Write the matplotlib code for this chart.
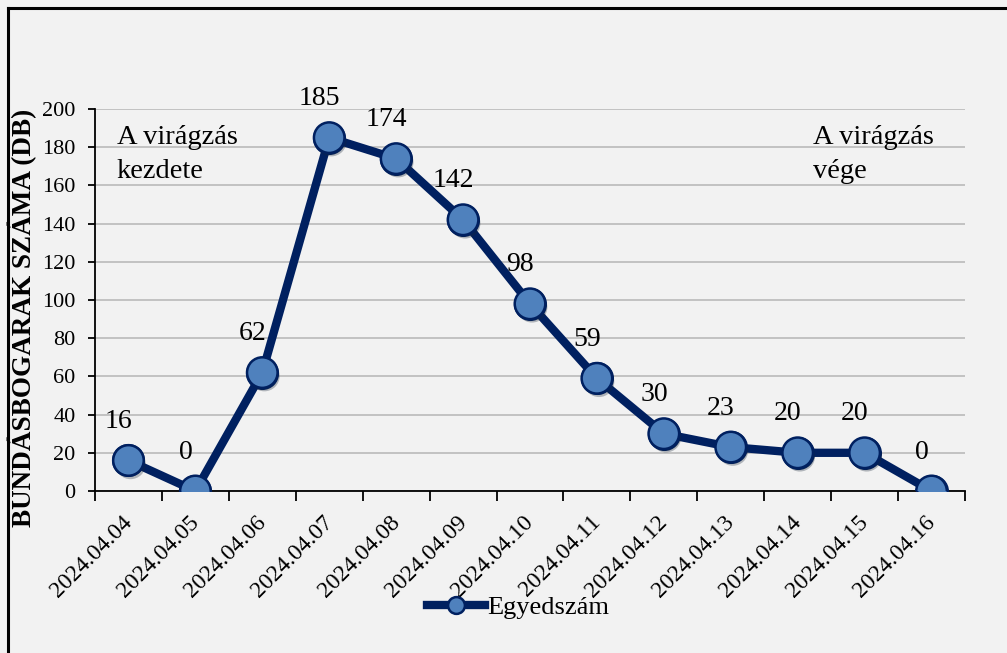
import numpy as np
import matplotlib
matplotlib.use('Agg')
from matplotlib import pyplot as plt
from matplotlib.lines import Line2D
from matplotlib.transforms import ScaledTranslation
import matplotlib.patheffects as pe

dates = ['2024.04.04', '2024.04.05', '2024.04.06', '2024.04.07', '2024.04.08',
         '2024.04.09', '2024.04.10', '2024.04.11', '2024.04.12', '2024.04.13',
         '2024.04.14', '2024.04.15', '2024.04.16']
counts = [16, 0, 62, 185, 174, 142, 98, 59, 30, 23, 20, 20, 0]

plt.rcParams['font.family'] = ['Liberation Serif', 'DejaVu Serif']
bg = '#F2F2F2'
navy = '#002060'
blue = '#4F81BD'

fig = plt.figure(figsize=(10.07, 6.53), dpi=100, facecolor=bg)
ax = fig.add_axes([95/1007, 162/653, 870/1007, 382/653], facecolor=bg)

x = np.arange(len(counts))
ax.plot(x, counts, color=navy, lw=6, solid_joinstyle='round', zorder=3, label='Egyedszám',
        marker='o', ms=22, mfc=blue, mec=navy, mew=1.8)
# markers again, with a soft shadow
ax.plot(x, counts, ls='none', marker='o', ms=22, mfc=blue, mec=navy, mew=1.8, zorder=4,
        path_effects=[pe.SimplePatchShadow(offset=(1.5, -2.5), alpha=0.3), pe.Normal()])

for xi, v in zip(x, counts):
    ax.annotate(str(v), (xi, v), xytext=(-7, 28), textcoords='offset points',
                ha='center', va='center', fontsize=20)

ax.set_xlim(-0.5, len(counts) - 0.5)
ax.set_ylim(0, 200)
ax.set_yticks(np.arange(0, 201, 20))
ax.yaxis.grid(True, color='#BFBFBF', lw=1.3)
ax.set_axisbelow(True)
ax.set_xticks(x)
ax.set_xticklabels(dates, rotation=45, ha='right', va='top', rotation_mode='anchor')
ax.set_xticks(np.arange(-0.5, len(counts), 1), minor=True)
ax.tick_params(axis='x', which='major', length=0, labelsize=17, pad=15)
ax.tick_params(axis='x', which='minor', length=7, width=1.3, direction='out')
ax.tick_params(axis='y', length=5, width=1.3, labelsize=16, pad=9)
shift = ScaledTranslation(-7/100, 0, fig.dpi_scale_trans)
for lab in ax.get_xticklabels():
    lab.set_transform(lab.get_transform() + shift)
for s in ['top', 'right']:
    ax.spines[s].set_visible(False)
for s in ['left', 'bottom']:
    ax.spines[s].set_linewidth(1.3)

ax.set_ylabel('BUNDÁSBOGARAK SZÁMA (DB)', fontsize=19.5, fontweight='bold')
ax.yaxis.set_label_coords(-0.066, 0.453)

ax.text(0.025, 0.958, 'A virágzás\nkezdete', transform=ax.transAxes, ha='left', va='top',
        fontsize=20.5, linespacing=1.45)
ax.text(0.825, 0.958, 'A virágzás\nvége', transform=ax.transAxes, ha='left', va='top',
        fontsize=20.5, linespacing=1.45)

leg = ax.legend(loc='center', bbox_to_anchor=(518/1007, 1 - 607/653), bbox_transform=fig.transFigure,
                frameon=False, fontsize=19, markerscale=0.55, handlelength=2.2, handletextpad=0.1)

# outer frame (left and top visible)
fig.add_artist(Line2D([7.5/1007, 7.5/1007], [0, 1 - 8/653], color='black', lw=2.2,
                      transform=fig.transFigure))
fig.add_artist(Line2D([7.5/1007, 1], [1 - 8/653, 1 - 8/653], color='black', lw=2.2,
                      transform=fig.transFigure))

fig.savefig('out.png', dpi=100, facecolor=bg)
